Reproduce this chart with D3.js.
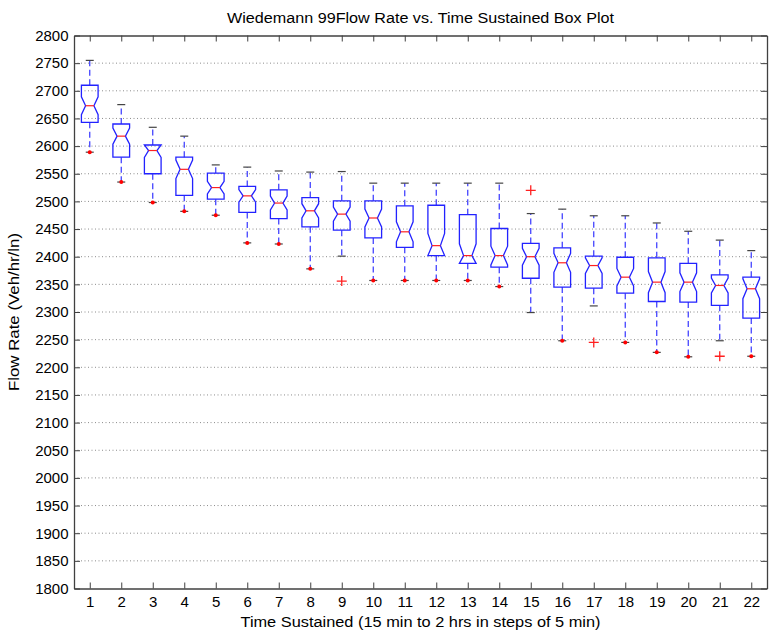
<!DOCTYPE html>
<html lang='en'>
<head>
    <meta charset='UTF-8'>
    <title>Wiedemann 99 box plot</title>
    <style>
        body { margin: 0; background: #fff; }
        text { font-family: 'Liberation Sans', Arial, sans-serif; fill: #000; }
    </style>
</head>
<body>
    <div id='anchor'></div>
    <script src='https://cdnjs.cloudflare.com/ajax/libs/d3/7.8.5/d3.min.js'></script>
    <script>
        // values, one entry per box (time sustained 1..22)
        const categories = ['1', '2', '3', '4', '5', '6', '7', '8', '9', '10', '11',
            '12', '13', '14', '15', '16', '17', '18', '19', '20', '21', '22'];
        const upperWhisker = [2755, 2675, 2634, 2618, 2566, 2562, 2555, 2553, 2554, 2533, 2533,
            2533, 2533, 2533, 2478, 2486, 2474, 2474, 2461, 2446, 2430, 2411];
        const q3 = [2710, 2640, 2602, 2580, 2551, 2527, 2521, 2507, 2501, 2501, 2492,
            2493, 2476, 2451, 2424, 2416, 2401, 2399, 2398, 2388, 2367, 2363];
        const medians = [2673, 2618, 2592, 2558, 2525, 2510, 2497, 2483, 2477, 2470, 2445,
            2420, 2402, 2402, 2400, 2389, 2384, 2363, 2354, 2354, 2348, 2342];
        const q1 = [2643, 2580, 2550, 2511, 2504, 2480, 2469, 2454, 2448, 2434, 2417,
            2402, 2388, 2381, 2361, 2345, 2343, 2334, 2319, 2318, 2312, 2289];
        const lowerWhisker = [2589, 2535, 2498, 2482, 2475, 2425, 2423, 2378, 2401, 2357, 2357,
            2357, 2357, 2346, 2299, 2248, 2311, 2245, 2227, 2219, 2248, 2220];
        // outliers drawn as red '+'
        const outlierBox = ['9', '15', '17', '21'];
        const outlierValue = [2356, 2520, 2245, 2220];
        // boxes whose lower whisker end carries a small red mark
        const markedLowEnds = ['1', '2', '3', '4', '5', '6', '7', '8', '10', '11', '12',
            '13', '14', '16', '18', '19', '20', '22'];
        const sampleSize = 42;
        const yTicks = [1800, 1850, 1900, 1950, 2000, 2050, 2100, 2150, 2200, 2250, 2300,
            2350, 2400, 2450, 2500, 2550, 2600, 2650, 2700, 2750, 2800];

        const width = 770, height = 633;
        const margin = { top: 35.5, right: 3, bottom: 44.5, left: 74 };

        const svg = d3.select('#anchor').append('svg')
            .attr('width', width)
            .attr('height', height);

        const x = d3.scaleLinear()
            .domain([0.5, categories.length + 0.5])
            .range([margin.left, width - margin.right]);
        const y = d3.scaleLinear()
            .domain([1800, 2800])
            .range([height - margin.bottom, margin.top]);

        const xPos = c => x(categories.indexOf(c) + 1);
        const halfBox = (x(1) - x(0)) * 0.265;

        // dotted grid
        svg.append('g')
            .selectAll('line')
            .data(yTicks.slice(1, -1))
            .join('line')
            .attr('x1', margin.left)
            .attr('x2', width - margin.right)
            .attr('y1', d => y(d))
            .attr('y2', d => y(d))
            .attr('stroke', '#8c8c8c')
            .attr('stroke-width', 1)
            .attr('stroke-dasharray', '1,2.5');

        // axes, ticks inside like the original
        const tickVals = categories.map((c, i) => i + 1);
        const styleAxis = g => {
            g.select('.domain').attr('stroke', '#404040').attr('stroke-width', 1.3);
            g.selectAll('.tick line').attr('stroke', '#404040');
            g.selectAll('.tick text').attr('font-size', 15).attr('fill', '#000')
                .attr('font-family', "'Liberation Sans', Arial, sans-serif");
        };
        svg.append('g')
            .attr('transform', `translate(0,${height - margin.bottom})`)
            .call(d3.axisBottom(x).tickValues(tickVals).tickFormat((d, i) => categories[i])
                .tickSizeInner(-6).tickSizeOuter(0).tickPadding(8))
            .call(styleAxis);
        svg.append('g')
            .attr('transform', `translate(0,${margin.top})`)
            .call(d3.axisTop(x).tickValues(tickVals).tickFormat('')
                .tickSizeInner(-6).tickSizeOuter(0))
            .call(styleAxis);
        svg.append('g')
            .attr('transform', `translate(${margin.left},0)`)
            .call(d3.axisLeft(y).tickValues(yTicks).tickFormat(d3.format('d'))
                .tickSizeInner(-6).tickSizeOuter(0).tickPadding(5.5))
            .call(styleAxis);
        svg.append('g')
            .attr('transform', `translate(${width - margin.right},0)`)
            .call(d3.axisRight(y).tickValues(yTicks).tickFormat('')
                .tickSizeInner(-6).tickSizeOuter(0))
            .call(styleAxis);

        const boxes = categories.map((c, i) => ({
            cat: c,
            hi: upperWhisker[i], q3: q3[i], med: medians[i], q1: q1[i], lo: lowerWhisker[i]
        }));

        const plot = svg.append('g');

        // dashed whiskers
        plot.selectAll('.whisker')
            .data(boxes.flatMap(b => [[b, b.q3, b.hi], [b, b.q1, b.lo]]))
            .join('line')
            .attr('x1', d => xPos(d[0].cat))
            .attr('x2', d => xPos(d[0].cat))
            .attr('y1', d => y(d[1]))
            .attr('y2', d => y(d[2]))
            .attr('stroke', '#3535ff')
            .attr('stroke-width', 1.2)
            .attr('stroke-dasharray', '6,3.5');

        // whisker caps
        plot.selectAll('.cap')
            .data(boxes.flatMap(b => [[b.cat, b.hi], [b.cat, b.lo]]))
            .join('line')
            .attr('x1', d => xPos(d[0]) - 4)
            .attr('x2', d => xPos(d[0]) + 4)
            .attr('y1', d => y(d[1]))
            .attr('y2', d => y(d[1]))
            .attr('stroke', '#444')
            .attr('stroke-width', 1.2);

        // notched boxes
        plot.selectAll('.box')
            .data(boxes)
            .join('path')
            .attr('fill', 'none')
            .attr('stroke', '#2222ff')
            .attr('stroke-width', 1.3)
            .attr('d', b => {
                const cx = xPos(b.cat);
                const notch = 1.57 * (b.q3 - b.q1) / Math.sqrt(sampleSize);
                const nTop = y(Math.min(b.med + notch, b.q3));
                const nBot = y(Math.max(b.med - notch, b.q1));
                const w = halfBox, n = halfBox / 2;
                return `M${cx - w},${y(b.q3)} H${cx + w} V${nTop} L${cx + n},${y(b.med)}
                    L${cx + w},${nBot} V${y(b.q1)} H${cx - w} V${nBot}
                    L${cx - n},${y(b.med)} L${cx - w},${nTop} Z`;
            });

        // medians
        plot.selectAll('.median')
            .data(boxes)
            .join('line')
            .attr('x1', b => xPos(b.cat) - halfBox / 2)
            .attr('x2', b => xPos(b.cat) + halfBox / 2)
            .attr('y1', b => y(b.med))
            .attr('y2', b => y(b.med))
            .attr('stroke', '#ff2020')
            .attr('stroke-width', 1.2);

        // red marks on the lower whisker ends
        plot.selectAll('.lowmark')
            .data(boxes.filter(b => markedLowEnds.includes(b.cat)))
            .join('circle')
            .attr('cx', b => xPos(b.cat))
            .attr('cy', b => y(b.lo))
            .attr('r', 2)
            .attr('fill', '#ff0000');

        // outliers
        plot.selectAll('.outlier')
            .data(outlierBox.map((c, i) => [c, outlierValue[i]]))
            .join('path')
            .attr('transform', d => `translate(${xPos(d[0])},${y(d[1])})`)
            .attr('d', 'M-5,0H5M0,-5V5')
            .attr('stroke', '#ff2020')
            .attr('stroke-width', 1.3);

        // titles
        const midX = (margin.left + width - margin.right) / 2;
        svg.append('text')
            .attr('x', midX)
            .attr('y', 23)
            .attr('text-anchor', 'middle')
            .attr('font-size', 15.5)
            .attr('textLength', 387)
            .attr('lengthAdjust', 'spacingAndGlyphs')
            .text('Wiedemann 99Flow Rate vs. Time Sustained Box Plot');

        svg.append('text')
            .attr('x', midX)
            .attr('y', 627)
            .attr('text-anchor', 'middle')
            .attr('font-size', 15.5)
            .attr('textLength', 360)
            .attr('lengthAdjust', 'spacingAndGlyphs')
            .text('Time Sustained (15 min to 2 hrs in steps of 5 min)');

        svg.append('text')
            .attr('transform', `translate(19,${(margin.top + height - margin.bottom) / 2}) rotate(-90)`)
            .attr('text-anchor', 'middle')
            .attr('font-size', 15.5)
            .attr('textLength', 158)
            .attr('lengthAdjust', 'spacingAndGlyphs')
            .text('Flow Rate (Veh/hr/ln)');
    </script>
</body>
</html>
